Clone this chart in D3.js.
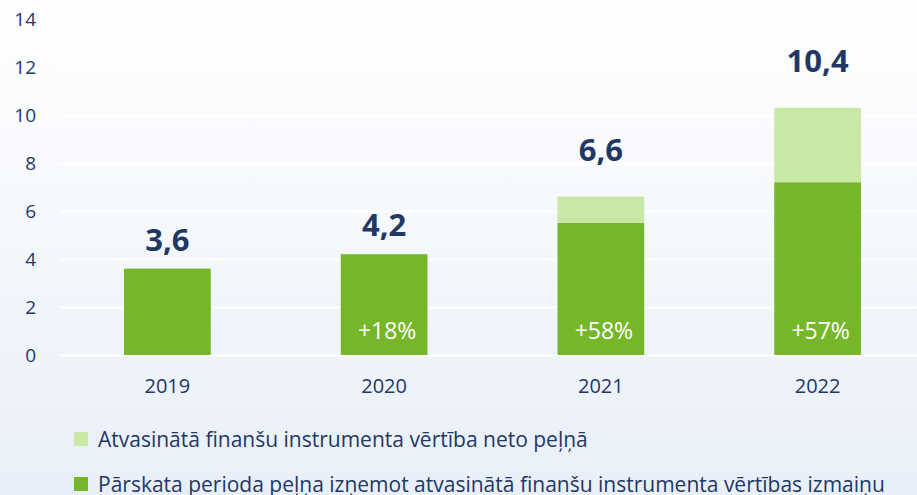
<!DOCTYPE html>
<html>
<head>
<meta charset="utf-8">
<script src="https://cdn.jsdelivr.net/npm/d3@7"></script>
<style>
  html, body { margin: 0; padding: 0; }
  body { width: 917px; height: 495px; overflow: hidden; }
  text { font-family: "Open Sans", sans-serif; }
</style>
</head>
<body>
<div id="chart"></div>
<script>
// Stacked bar chart: profit without derivative revaluation + derivative net profit

// Pt. 0 - DATA
const years = ["2019", "2020", "2021", "2022"];
const baseProfit = [3.6, 4.2, 5.5, 7.2];      // dark green
const derivProfit = [0, 0, 1.1, 3.1];         // light green
const totalLabels = ["3,6", "4,2", "6,6", "10,4"];
const growthLabels = ["", "+18%", "+58%", "+57%"];
const yTicks = [0, 2, 4, 6, 8, 10, 12, 14];
const legendLabels = [
    "Atvasinātā finanšu instrumenta vērtība neto peļņā",
    "Pārskata perioda peļņa izņemot atvasinātā finanšu instrumenta vērtības izmaiņu"
];

// Pt. 1 - TYPE SETTING
const width = 917,
      height = 495,
      margin = ({ top: 19, right: -9, bottom: 140, left: 59 });

const navy = "#1f3864",
      darkGreen = "#76b72a",
      lightGreen = "#c9e7a5";

let svg = d3.select("#chart")
    .append("svg")
    .attr("width", width)
    .attr("height", height);

// background gradient
let grad = svg.append("defs").append("linearGradient")
    .attr("id", "bg")
    .attr("x1", 0).attr("y1", 0).attr("x2", 0).attr("y2", 1);
grad.append("stop").attr("offset", "0%").attr("stop-color", "#ffffff");
grad.append("stop").attr("offset", "100%").attr("stop-color", "#e9eff8");

svg.append("rect")
    .attr("width", width)
    .attr("height", height)
    .attr("fill", "url(#bg)");

let x = d3.scaleBand()
    .domain(years)
    .range([margin.left, width - margin.right])
    .paddingInner(0.6)
    .paddingOuter(0.3);

let y = d3.scaleLinear()
    .domain([0, 14])
    .range([height - margin.bottom, margin.top]);

// Pt. 2 - AXES
let yAxis = svg.append("g")
    .attr("transform", `translate(${margin.left}, 0)`)
    .call(d3.axisLeft(y).tickValues(yTicks).tickSize(-(width - margin.left)).tickPadding(23));
yAxis.select(".domain").remove();
yAxis.selectAll(".tick line").attr("stroke", "#ffffff").attr("stroke-width", 2);
yAxis.selectAll(".tick text")
    .attr("fill", navy)
    .style("font-size", "19px")
    .attr("dy", "0.34em");

let xAxis = svg.append("g")
    .attr("transform", `translate(0, ${height - margin.bottom})`)
    .call(d3.axisBottom(x).tickSize(0).tickPadding(26));
xAxis.select(".domain").remove();
xAxis.selectAll(".tick text")
    .attr("fill", navy)
    .style("font-size", "20px")
    .attr("dy", "0.6em");

// Pt. 3 - BARS
let data = years.map((yr, i) => ({
    year: yr,
    base: baseProfit[i],
    deriv: derivProfit[i],
    label: totalLabels[i],
    growth: growthLabels[i]
}));

let bar = svg.selectAll(".bar")
    .data(data)
    .join("g")
    .attr("class", "bar");

bar.append("rect")
    .attr("fill", darkGreen)
    .attr("x", d => x(d.year))
    .attr("width", x.bandwidth())
    .attr("y", d => y(d.base))
    .attr("height", d => y(0) - y(d.base));

bar.filter(d => d.deriv > 0)
    .append("rect")
    .attr("fill", lightGreen)
    .attr("x", d => x(d.year))
    .attr("width", x.bandwidth())
    .attr("y", d => y(d.base + d.deriv))
    .attr("height", d => y(d.base) - y(d.base + d.deriv));

// total labels
bar.append("text")
    .text(d => d.label)
    .attr("x", d => x(d.year) + x.bandwidth() / 2)
    .attr("y", d => y(d.base + d.deriv) - (d.deriv > 0 ? 36 : 18))
    .attr("text-anchor", "middle")
    .attr("fill", navy)
    .style("font-size", "31px")
    .style("font-weight", "bold");

// growth labels inside bars
bar.append("text")
    .text(d => d.growth)
    .attr("x", d => x(d.year) + x.bandwidth() / 2 + 3)
    .attr("y", y(0) - 16)
    .attr("text-anchor", "middle")
    .attr("fill", "#ffffff")
    .style("font-size", "23px");

// Pt. 4 - LEGEND
let legend = svg.selectAll(".legend")
    .data(legendLabels)
    .join("g")
    .attr("class", "legend")
    .attr("transform", (d, i) => `translate(74, ${439 + i * 45})`);

legend.append("rect")
    .attr("x", 0)
    .attr("y", -7)
    .attr("width", 14)
    .attr("height", 14)
    .attr("fill", (d, i) => i === 0 ? lightGreen : darkGreen);

legend.append("text")
    .text(d => d)
    .attr("x", 24)
    .attr("y", 0)
    .attr("dy", "0.36em")
    .attr("fill", navy)
    .style("font-size", "21px");
</script>
</body>
</html>
